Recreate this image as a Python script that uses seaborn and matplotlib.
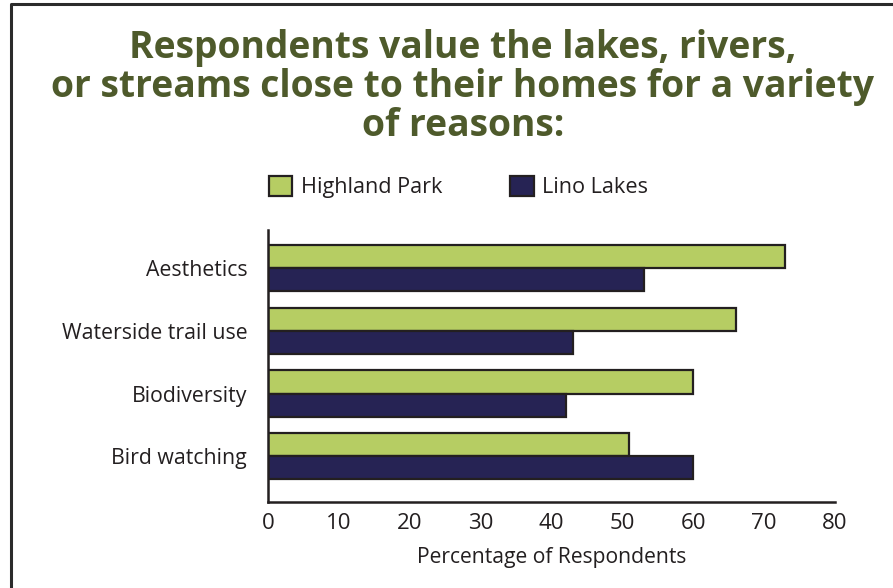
import matplotlib
matplotlib.use("Agg")
import matplotlib.pyplot as plt
from matplotlib.lines import Line2D
import seaborn as sns
import pandas as pd

categories = ["Aesthetics", "Waterside trail use", "Biodiversity", "Bird watching"]
highland_park = [73, 66, 60, 51]
lino_lakes = [53, 43, 42, 60]
series_names = ["Highland Park", "Lino Lakes"]
x_ticks = [0, 10, 20, 30, 40, 50, 60, 70, 80]

title_text = ("Respondents value the lakes, rivers,\n"
              "or streams close to their homes for a variety\n"
              "of reasons:")
x_label = "Percentage of Respondents"

df = pd.DataFrame({
    "Reason": categories * 2,
    "Site": [series_names[0]] * len(categories) + [series_names[1]] * len(categories),
    "Percent": highland_park + lino_lakes,
})

sns.set_theme(style="white")
plt.rcParams["font.family"] = ["Open Sans", "DejaVu Sans"]
text_color = "#231f20"
edge = "#231f20"

fig = plt.figure(figsize=(8.93, 5.88), dpi=100)
ax = fig.add_axes([268 / 893, 1 - 502 / 588, (835 - 268) / 893, (502 - 230) / 588])

sns.barplot(data=df, y="Reason", x="Percent", hue="Site", order=categories,
            hue_order=series_names, palette=["#b6cd63", "#262354"],
            orient="h", width=0.74, gap=0, edgecolor=edge, linewidth=1.6,
            saturation=1, ax=ax, legend=True)

ax.set_xlim(0, 80)
ax.set_ylim(3.73, -0.61)
ax.set_xticks(x_ticks)
ax.set_xticklabels([str(t) for t in x_ticks])
ax.set_xlabel(x_label, fontsize=15.2, color=text_color, labelpad=9)
ax.set_ylabel("")
ax.tick_params(axis="x", direction="in", length=7.5, width=1.6, colors=edge,
               labelsize=16, labelcolor=text_color, pad=8)
ax.tick_params(axis="y", length=0, labelsize=15.3, labelcolor=text_color, pad=15)
for side in ["top", "right"]:
    ax.spines[side].set_visible(False)
for side in ["left", "bottom"]:
    ax.spines[side].set_color(edge)
    ax.spines[side].set_linewidth(1.8)

handles, labels = ax.get_legend_handles_labels()
ax.get_legend().remove()
fig.legend(handles, labels, loc="center left", bbox_to_anchor=(249 / 893, 1 - 187 / 588),
           ncol=2, frameon=False, fontsize=15.6, handlelength=1.1, handleheight=1.1,
           handletextpad=0.4, columnspacing=3.1, labelcolor=text_color)

fig.text(463 / 893, 1 - 29 / 588, title_text, ha="center", va="top",
         fontsize=26.8, fontweight="bold", color="#4e5a2b", linespacing=1.03)

fig.add_artist(Line2D([11 / 893, 11 / 893, 1.0], [0.0, 1 - 4 / 588, 1 - 4 / 588],
                      transform=fig.transFigure, color="#2b2b2b", linewidth=2.2))

fig.savefig("out.png", dpi=100)
